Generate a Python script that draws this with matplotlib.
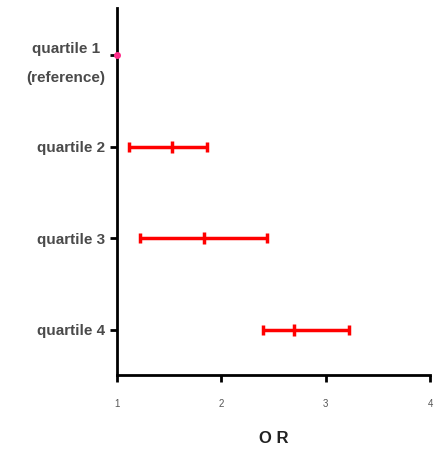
import matplotlib
matplotlib.use("Agg")
import numpy as np
import matplotlib.pyplot as plt

labels = ["quartile 1\n(reference)", "quartile 2", "quartile 3", "quartile 4"]
or_values = [1.0, 1.53, 1.84, 2.70]
ci_low = [1.0, 1.12, 1.22, 2.40]
ci_high = [1.0, 1.87, 2.44, 3.22]

plt.rcParams["font.family"] = ["Liberation Sans", "DejaVu Sans"]

fig = plt.figure(figsize=(4.38, 4.49), dpi=100)
ax = fig.add_axes([0.266, 0.165, 0.716, 0.817])

y = np.arange(len(labels))
or_arr = np.array(or_values)
err = [or_arr - np.array(ci_low), np.array(ci_high) - or_arr]

# reference group drawn as a single pink point
ax.plot(or_values[0], y[0], "o", color="#ff2d8a", markersize=4, clip_on=False, zorder=5)

ax.errorbar(or_arr[1:], y[1:], xerr=[err[0][1:], err[1][1:]], fmt="|", color="red",
            ecolor="red", elinewidth=2.5, capsize=3.5, capthick=2, markersize=8,
            markeredgewidth=2.5)

ax.set_xlim(1, 4)
ax.set_ylim(3.49, -0.51)
ax.set_xticks([1, 2, 3, 4])
ax.set_yticks(y)
ax.set_yticklabels(labels, fontsize=11, fontweight="bold", color="#4a4a4a",
                   linespacing=2.3, multialignment="center")
for t in ax.get_xticklabels():
    t.set_fontsize(7)
    t.set_color("#555555")

ax.set_xlabel("O R", fontsize=12, fontweight="bold", color="#222222", labelpad=16)

for side in ["top", "right"]:
    ax.spines[side].set_visible(False)
for side in ["left", "bottom"]:
    ax.spines[side].set_linewidth(2)
ax.tick_params(axis="both", width=2, length=5, direction="out")
ax.tick_params(axis="x", pad=12)
ax.tick_params(axis="y", pad=3)

plt.savefig("out.png", dpi=100)
plt.close()
